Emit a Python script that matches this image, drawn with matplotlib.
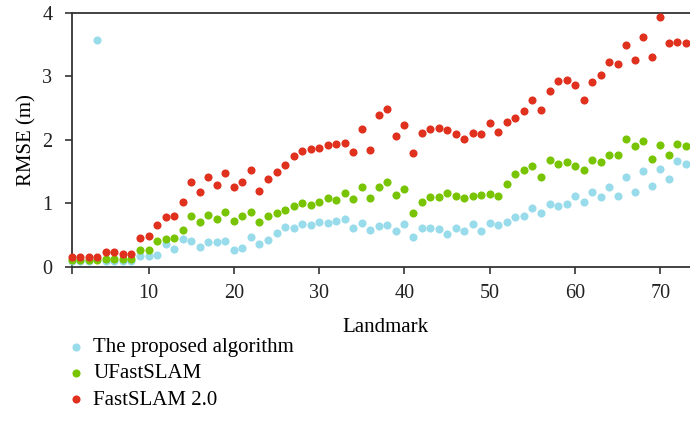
import numpy as np
import matplotlib
matplotlib.use("Agg")
import matplotlib.pyplot as plt

plt.rcParams['font.family'] = ['Liberation Serif', 'DejaVu Serif']

landmark = np.arange(1, 75)

proposed = [0.09, 0.09, 0.09, 3.58, 0.10, 0.10, 0.10, 0.10, 0.17, 0.17,
            0.19, 0.36, 0.29, 0.44, 0.41, 0.32, 0.39, 0.39, 0.41, 0.27,
            0.30, 0.47, 0.36, 0.43, 0.54, 0.63, 0.61, 0.68, 0.66, 0.71,
            0.69, 0.72, 0.76, 0.61, 0.69, 0.58, 0.65, 0.66, 0.57, 0.68,
            0.47, 0.61, 0.61, 0.60, 0.52, 0.61, 0.57, 0.68, 0.57, 0.69,
            0.66, 0.71, 0.79, 0.80, 0.93, 0.85, 0.99, 0.96, 0.99, 1.12,
            1.02, 1.18, 1.10, 1.26, 1.12, 1.41, 1.18, 1.51, 1.28, 1.54,
            1.38, 1.67, 1.62, 1.67]

ufastslam = [0.11, 0.11, 0.11, 0.11, 0.12, 0.13, 0.13, 0.12, 0.27, 0.27,
             0.41, 0.44, 0.46, 0.58, 0.80, 0.71, 0.82, 0.76, 0.87, 0.73,
             0.80, 0.87, 0.70, 0.80, 0.85, 0.89, 0.96, 1.01, 0.97, 1.02,
             1.08, 1.05, 1.16, 1.07, 1.26, 1.09, 1.26, 1.33, 1.14, 1.23,
             0.85, 1.02, 1.10, 1.10, 1.17, 1.12, 1.08, 1.11, 1.13, 1.15,
             1.12, 1.30, 1.46, 1.52, 1.59, 1.42, 1.68, 1.62, 1.65, 1.59,
             1.53, 1.68, 1.65, 1.76, 1.76, 2.02, 1.91, 1.98, 1.70, 1.92,
             1.76, 1.93, 1.90, 1.96]

fastslam2 = [0.16, 0.16, 0.16, 0.16, 0.23, 0.24, 0.21, 0.21, 0.46, 0.49,
             0.66, 0.78, 0.80, 1.02, 1.34, 1.18, 1.42, 1.29, 1.48, 1.26,
             1.34, 1.53, 1.20, 1.39, 1.50, 1.61, 1.75, 1.83, 1.86, 1.87,
             1.92, 1.94, 1.95, 1.81, 2.17, 1.84, 2.39, 2.49, 2.06, 2.24,
             1.80, 2.11, 2.17, 2.19, 2.16, 2.09, 2.02, 2.11, 2.09, 2.27,
             2.13, 2.28, 2.35, 2.46, 2.63, 2.47, 2.77, 2.93, 2.94, 2.87,
             2.63, 2.91, 3.02, 3.23, 3.20, 3.50, 3.26, 3.62, 3.31, 3.94,
             3.53, 3.54, 3.53, 3.50]

names = ['The proposed algorithm', 'UFastSLAM', 'FastSLAM 2.0']
colors = ['#98dbea', '#78c400', '#e0301e']

fig = plt.figure(figsize=(6.9, 4.42), dpi=100)
ax = fig.add_axes([0.104, 0.396, 0.91, 0.575])

for vals, name, c in zip([proposed, ufastslam, fastslam2], names, colors):
    ax.scatter(landmark, vals, s=34, color=c, linewidths=0, label=name,
               clip_on=False, zorder=3)

ax.set_xlim(1, 74.6)
ax.set_ylim(0, 4)
ax.set_xticks([1, 10, 20, 30, 40, 50, 60, 70])
ax.set_xticklabels(['', '10', '20', '30', '40', '50', '60', '70'])
ax.set_yticks([0, 1, 2, 3, 4])
ax.tick_params(direction='out', length=5, width=1.1, labelsize=14.5,
               colors='#222222', pad=7)
ax.tick_params(axis='y', pad=9)
for sp in ax.spines.values():
    sp.set_linewidth(1.3)
    sp.set_color('#333333')
ax.spines['right'].set_visible(False)

ax.set_xlabel('Landmark', fontsize=15, labelpad=11)
ax.set_ylabel('RMSE (m)', fontsize=15, labelpad=4)

fig.legend(loc='upper left', bbox_to_anchor=(0.085, 0.26), frameon=False,
           fontsize=15, handlelength=0.7, handletextpad=0.45,
           labelspacing=0.32, borderpad=0, markerscale=1.0)

fig.savefig('out.png', dpi=100)
